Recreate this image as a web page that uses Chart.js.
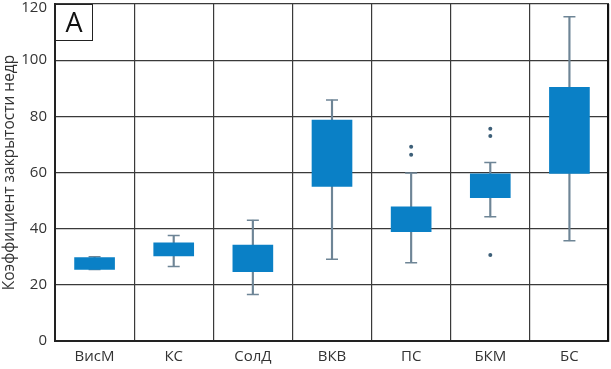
<!DOCTYPE html>
<html>
<head>
<meta charset="utf-8">
<script src="https://cdn.jsdelivr.net/npm/chart.js@4.4.1/dist/chart.umd.min.js"></script>
<style>
  html, body { margin: 0; padding: 0; background: #fff; overflow: hidden; }
  #wrap { width: 611px; height: 369px; position: relative; }
</style>
</head>
<body>
<div id="wrap"><canvas id="boxChart"></canvas></div>
<script>
// Категории и значения (оценены по рисунку)
const categories = ['ВисМ', 'КС', 'СолД', 'ВКВ', 'ПС', 'БКМ', 'БС'];
const whiskerMin = [25.5, 26.5, 16.6, 29.1, 27.9, 44.2, 35.7];
const q1 = [25.5, 30.3, 24.7, 55.0, 38.9, 51.0, 59.7];
const q3 = [29.7, 35.0, 34.2, 78.7, 47.8, 59.5, 90.3];
const whiskerMax = [30.0, 37.6, 43.0, 85.8, 59.8, 63.6, 115.5];
const outlierCats = ['ПС', 'ПС', 'БКМ', 'БКМ', 'БКМ'];
const outlierValues = [69.2, 66.3, 75.6, 73.0, 30.6];
const yTicks = [0, 20, 40, 60, 80, 100, 120];

const BOX_COLOR = '#0a80c6';
const WHISKER_COLOR = '#6e8596';
const GRID_COLOR = '#3a3a3a';
const FONT = '"Open Sans", "Noto Sans", sans-serif';

// Рамка с буквой "A" и правая граница
const panelLabel = {
    id: 'panelLabel',
    afterDraw(chart) {
        const { ctx, chartArea } = chart;
        const x = chartArea.left, y = chartArea.top;
        ctx.save();
        ctx.fillStyle = '#fff';
        ctx.fillRect(x, y, 37, 36);
        ctx.strokeStyle = '#222';
        ctx.lineWidth = 1;
        ctx.strokeRect(x + 0.5, y + 0.5, 37, 36);
        ctx.fillStyle = '#111';
        ctx.font = '27px ' + FONT;
        ctx.textAlign = 'center';
        ctx.textBaseline = 'middle';
        ctx.fillText('A', x + 19, y + 20);
        ctx.strokeStyle = '#111';
        ctx.lineWidth = 2;
        ctx.beginPath();
        ctx.moveTo(chartArea.right - 1, chartArea.top);
        ctx.lineTo(chartArea.right - 1, chartArea.bottom);
        ctx.stroke();
        ctx.restore();
    }
};

const ctx = document.getElementById('boxChart').getContext('2d');
new Chart(ctx, {
    type: 'bar',
    data: {
        labels: categories,
        datasets: [
            {
                label: 'box',
                data: categories.map((c, i) => [q1[i], q3[i]]),
                backgroundColor: BOX_COLOR,
                borderWidth: 0,
                barThickness: 40,
                grouped: false,
                order: 1
            },
            {
                label: 'whisker',
                data: categories.map((c, i) => [whiskerMin[i], whiskerMax[i]]),
                backgroundColor: WHISKER_COLOR,
                borderWidth: 0,
                barThickness: 1.5,
                grouped: false,
                order: 3
            },
            {
                type: 'line',
                label: 'caps',
                data: categories.flatMap((c, i) => [{ x: c, y: whiskerMin[i] }, { x: c, y: whiskerMax[i] }]),
                showLine: false,
                pointStyle: 'line',
                pointRadius: 6,
                pointBorderWidth: 1.5,
                pointBorderColor: WHISKER_COLOR,
                order: 2
            },
            {
                type: 'line',
                label: 'outliers',
                data: outlierCats.map((c, i) => ({ x: c, y: outlierValues[i] })),
                showLine: false,
                pointStyle: 'circle',
                pointRadius: 2,
                pointBorderWidth: 0,
                pointBackgroundColor: '#3d5f78',
                order: 0
            }
        ]
    },
    options: {
        responsive: true,
        maintainAspectRatio: false,
        animation: false,
        layout: { autoPadding: false, padding: { top: 4, right: 2, bottom: 0, left: 0 } },
        plugins: {
            legend: { display: false },
            tooltip: { enabled: false }
        },
        scales: {
            x: {
                type: 'category',
                offset: true,
                grid: { offset: true, color: GRID_COLOR, lineWidth: 1.2, drawTicks: false },
                border: { color: '#222', width: 2 },
                ticks: { color: '#333', font: { family: FONT, size: 15 }, padding: 7 },
                afterFit(scale) {
                    scale.height = 28;
                    scale.paddingLeft = 0;
                    scale.paddingRight = 0;
                }
            },
            y: {
                min: 0,
                max: 120,
                afterBuildTicks(scale) { scale.ticks = yTicks.map(v => ({ value: v })); },
                grid: { color: GRID_COLOR, lineWidth: 1.2, drawTicks: false },
                border: { color: '#222', width: 2 },
                ticks: {
                    color: '#333',
                    padding: 8,
                    // верхнюю подпись чуть опускаем, чтобы не обрезалась
                    callback: (v) => v === 120 ? ['', '120'] : String(v),
                    font: (c) => c.tick && c.tick.value === 120
                        ? { family: FONT, size: 15, lineHeight: 0.45 }
                        : { family: FONT, size: 15 }
                },
                title: {
                    display: true,
                    text: 'Коэффициент закрытости недр',
                    color: '#333',
                    font: { family: FONT, size: 15.5 },
                    padding: { top: 0, bottom: 0 }
                },
                afterFit(scale) {
                    scale.width = 55;
                    scale.paddingTop = 0;
                    scale.paddingBottom = 0;
                }
            }
        }
    },
    plugins: [panelLabel]
});
</script>
</body>
</html>
